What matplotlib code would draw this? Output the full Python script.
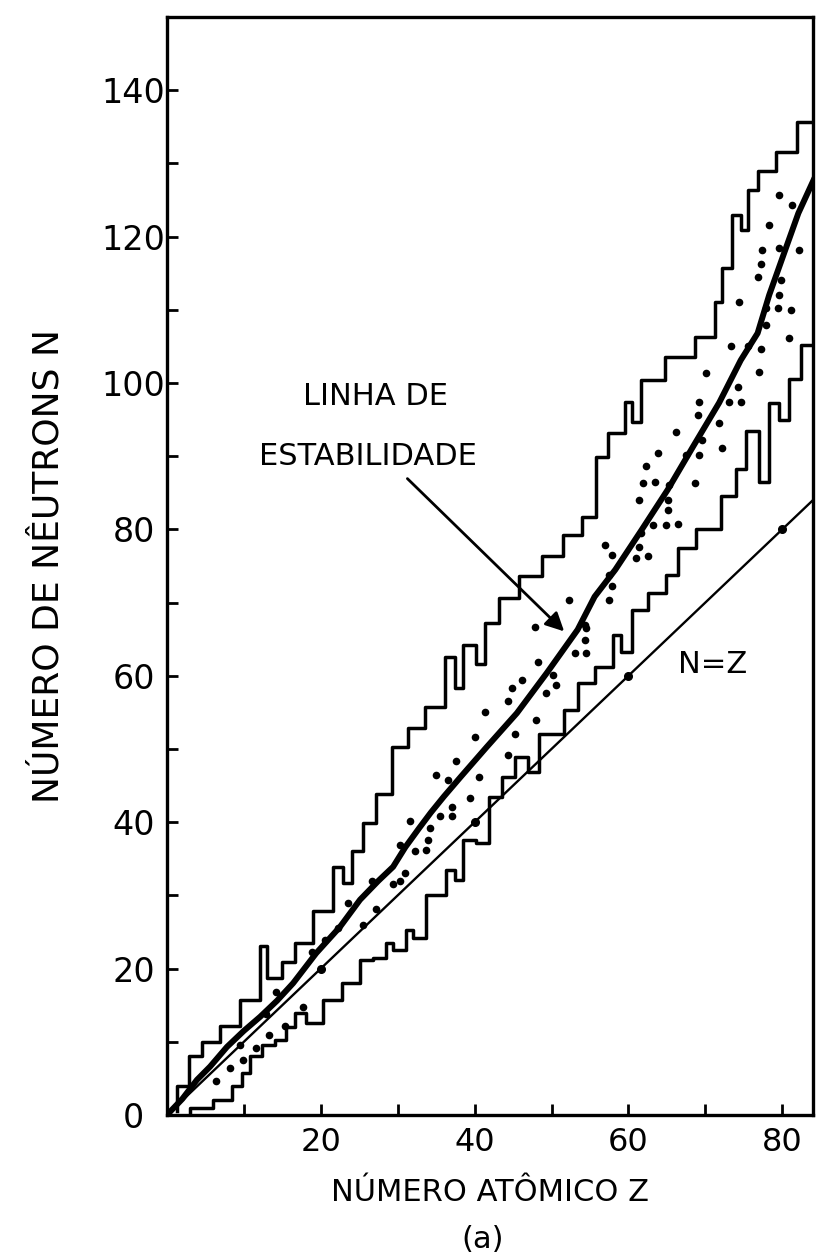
import numpy as np
import matplotlib
matplotlib.use('Agg')
import matplotlib.pyplot as plt

# linha N = Z
z_nz = [0, 84]
n_nz = [0, 84]
z_nz_pts = [20, 40, 60, 80]
n_nz_pts = [20, 40, 60, 80]

# linha de estabilidade
z_st = [0, 2, 3.9, 5.6, 7.8, 10, 12.1, 14.3, 16.4, 19.4, 22.5, 25.1, 27.5, 29.4, 31, 32.8,
        34.3, 36, 38.2, 41.6, 45.5, 49.4, 53.4, 55.6, 58.3, 61.7, 65.1, 68.4, 71.8, 74.6,
        76.8, 78.3, 80.4, 82.1, 84.2]
n_st = [0, 2.2, 4.8, 6.6, 9.3, 11.5, 13.4, 15.6, 18.0, 22.1, 25.7, 29.4, 32, 33.9, 36.6, 39.2,
        41.3, 43.5, 46.2, 50.3, 54.9, 60.4, 66.3, 70.8, 74.5, 79.9, 85.4, 91.3, 97.3, 103.1,
        106.8, 112, 118.2, 123.2, 128]

# limite superior (degraus)
z_up = [1.3, 1.3, 2.8, 4.5, 6.9, 9.5, 12.1, 13.0, 14.9, 16.6, 19.0, 21.6, 22.9, 24.0, 25.5,
        27.2, 29.2, 31.3, 33.5, 36.1, 37.4, 38.5, 40.2, 41.3, 43.2, 45.8, 48.7, 51.5, 53.9,
        55.8, 57.3, 59.5, 60.4, 61.6, 64.7, 68.6, 71.2, 72.2, 73.5, 74.6, 75.5, 76.8, 79.2,
        81.9, 84.2]
n_up = [0.5, 3.9, 8.0, 9.9, 12.1, 15.7, 23.1, 18.7, 20.9, 23.5, 27.8, 33.9, 31.7, 36.0, 39.9,
        43.9, 50.3, 52.8, 55.8, 62.6, 58.3, 64.2, 61.6, 67.2, 70.6, 73.6, 76.3, 79.2, 81.7,
        89.9, 93.1, 97.4, 94.7, 100.4, 103.6, 106.3, 111.1, 115.7, 123.0, 120.9, 126.4, 128.9,
        131.6, 135.7, 135.7]

# limite inferior (degraus)
z_lo = [3.0, 3.0, 6.0, 8.4, 9.7, 10.8, 12.3, 14.0, 15.5, 16.6, 18.1, 20.3, 22.7, 25.1, 26.8,
        28.5, 29.4, 31.1, 32.0, 32.9, 33.7, 36.3, 37.4, 38.5, 40.2, 41.9, 43.5, 45.2, 46.9,
        48.4, 51.6, 53.5, 55.6, 58.0, 59.0, 60.4, 62.5, 64.9, 66.4, 68.8, 72.0, 74.0, 75.3,
        77.0, 78.3, 79.6, 80.9, 82.4, 84.2]
n_lo = [0.0, 1.0, 2.0, 3.9, 5.7, 8.0, 9.6, 10.2, 12.0, 13.9, 12.5, 15.7, 18.0, 21.2, 21.5,
        23.5, 22.6, 25.3, 24.2, 24.2, 30.0, 33.5, 32.1, 37.6, 37.1, 43.5, 46.2, 48.9, 46.9,
        52.1, 55.3, 59.0, 61.2, 65.6, 63.3, 69.0, 71.3, 73.8, 77.4, 80.1, 84.5, 88.3, 93.4,
        86.5, 97.2, 94.9, 100.6, 105.2, 105.2]

# nuclideos estaveis (pontos)
z_pts = [6.4, 8.2, 9.9, 9.5, 11.6, 13.2, 12.9, 15.3, 14.2, 17.7, 18.8, 20.5, 22.2, 25.5,
         23.5, 27.2, 26.6, 29.4, 30.9, 30.3, 32.2, 33.7, 30.3, 33.9, 34.2, 31.6, 35.5, 37.0,
         37.0, 39.4, 36.5, 35.0, 40.6, 44.3, 37.6, 40.0, 45.2, 48.0, 41.3, 44.3, 49.3, 50.6,
         44.8, 46.1, 48.2, 50.2, 53.0, 54.5, 54.3, 54.5, 47.8, 54.3, 52.3, 57.5, 57.8, 57.5,
         62.5, 61.0, 57.8, 61.4, 56.9, 61.6, 63.2, 64.9, 66.4, 65.1, 61.4, 65.1, 65.3, 63.4,
         61.9, 68.6, 62.3, 63.8, 67.5, 69.2, 72.2, 69.6, 66.2, 71.8, 69.0, 69.2, 73.1, 74.6,
         74.2, 70.1, 77.0, 73.3, 75.5, 77.2, 80.9, 77.9, 77.9, 79.4, 81.1, 74.4, 79.6, 76.8,
         79.8, 77.2, 77.4, 79.6, 82.2, 78.3, 79.6, 81.3]
n_pts = [4.6, 6.4, 7.5, 9.6, 9.1, 10.9, 13.8, 12.2, 16.8, 14.8, 22.3, 23.9, 25.5, 26.0,
         28.9, 28.2, 31.9, 31.6, 33.1, 31.9, 36.0, 36.2, 36.9, 37.6, 39.2, 40.1, 40.8, 40.8,
         42.1, 43.3, 45.8, 46.4, 46.2, 49.2, 48.3, 51.7, 52.1, 54.0, 55.1, 56.5, 57.6, 58.7,
         58.3, 59.4, 61.9, 60.1, 63.1, 63.1, 64.9, 66.5, 66.7, 66.9, 70.4, 70.4, 72.2, 73.8,
         76.3, 76.1, 76.5, 77.6, 77.9, 79.5, 80.6, 80.6, 80.8, 82.7, 84.0, 84.0, 86.1, 86.5,
         86.3, 86.3, 88.6, 90.4, 90.2, 90.2, 91.1, 92.2, 93.3, 94.5, 95.6, 97.4, 97.4, 97.4,
         99.5, 101.3, 101.5, 105.0, 105.0, 104.7, 106.1, 107.9, 110.2, 110.2, 110.0, 111.1,
         112.0, 114.5, 114.1, 116.3, 118.2, 118.4, 118.2, 121.6, 125.7, 124.3]

y_ticks = [0, 20, 40, 60, 80, 100, 120, 140]
x_ticks = [20, 40, 60, 80]

plt.rcParams['font.family'] = 'DejaVu Sans'

fig = plt.figure(figsize=(8.17, 12.57), dpi=100)
ax = fig.add_axes([0.2044, 0.113, 0.7907, 0.8735])

ax.step(z_up, n_up, where='post', color='black', lw=2.5)
ax.step(z_lo, n_lo, where='post', color='black', lw=2.5)
ax.plot(z_nz, n_nz, color='black', lw=1.7)
ax.plot(z_nz_pts, n_nz_pts, 'o', color='black', ms=5.5)
ax.plot(z_st, n_st, color='black', lw=4.3, solid_capstyle='round')
ax.plot(z_pts, n_pts, 'o', color='black', ms=5.5, mew=0)

ax.text(27.1, 98.1, 'LINHA DE', fontsize=22, ha='center', va='center')
ax.text(26.1, 89.9, 'ESTABILIDADE', fontsize=22, ha='center', va='center')
ax.text(70.9, 61.5, 'N=Z', fontsize=22, ha='center', va='center')
ax.annotate('', xy=(51.9, 65.8), xytext=(31.0, 87.2),
            arrowprops=dict(arrowstyle='-|>', color='black', lw=2, mutation_scale=28))

ax.set_xlim(0, 84)
ax.set_ylim(0, 150)
ax.set_xticks(x_ticks)
ax.set_xticks([10, 30, 50, 70], minor=True)
ax.set_yticks(y_ticks)
ax.set_yticks(np.arange(10, 150, 20), minor=True)
ax.set_xticklabels([str(v) for v in x_ticks], fontsize=23)
ax.set_yticklabels([str(v) for v in y_ticks], fontsize=24, ha='center')
ax.tick_params(which='both', direction='in', length=8, width=2)
ax.tick_params(axis='x', pad=9)
ax.tick_params(axis='y', pad=24)
for s in ax.spines.values():
    s.set_linewidth(2.4)

ax.set_xlabel('NÚMERO ATÔMICO Z', fontsize=22, labelpad=14)
ax.set_ylabel('NÚMERO DE NÊUTRONS N', fontsize=26, labelpad=26)
fig.text(0.591, 1 - 1240 / 1257, '(a)', fontsize=22, ha='center', va='center')

fig.savefig('out.png', dpi=100)
